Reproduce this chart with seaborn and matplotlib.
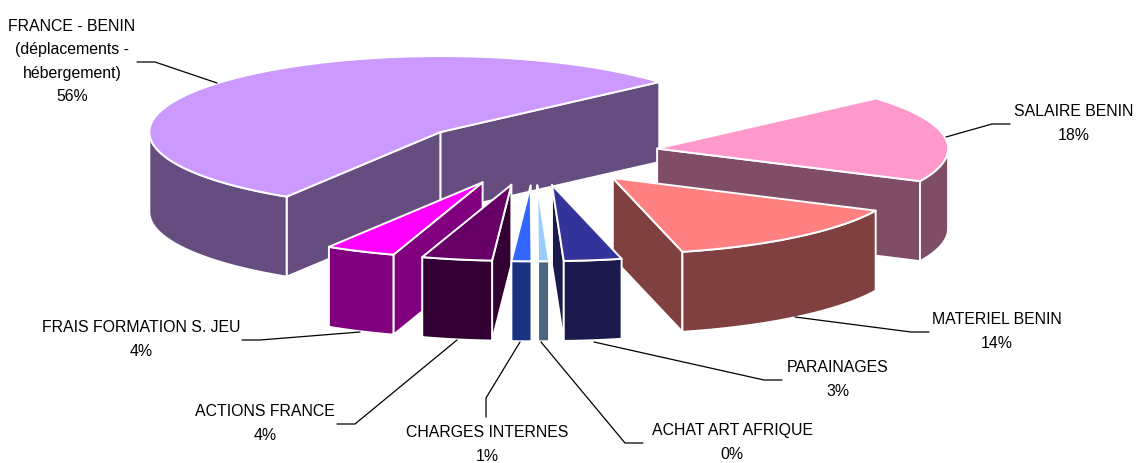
import numpy as np
import matplotlib.pyplot as plt
import matplotlib.colors as mcolors
import seaborn as sns

# slices, counter clockwise from the right hand edge of the big one
names = ["FRANCE - BENIN\n(déplacements -\nhébergement)", "FRAIS FORMATION S. JEU", "ACTIONS FRANCE",
         "CHARGES INTERNES", "ACHAT ART AFRIQUE", "PARAINAGES", "MATERIEL BENIN", "SALAIRE BENIN"]
# printed percentages, and the share of the turn each slice really takes in the picture
percents = [56, 4, 4, 1, 0, 3, 14, 18]
values = [54.7, 3.9, 3.9, 1.1, 0.6, 3.2, 14.1, 18.5]
colors = ["#CC99FF", "#FF00FF", "#660066", "#3366FF", "#99CCFF", "#333399", "#FF8080", "#FF99CC"]

# label centre, then leader line
label_pos = [(72, 61.5), (141, 339.5), (265, 423.5), (487, 444.5), (732, 442.5), (838, 379.5), (997, 331.5), (1074, 123.5)]
leaders = [
    [(137, 62), (155, 62), (217, 83)],
    [(242, 340), (260, 340), (360, 332)],
    [(337, 424), (355, 424), (457, 340)],
    [(486, 417), (486, 398), (520, 342)],
    [(643, 443), (625, 443), (541, 342)],
    [(782, 380), (764, 380), (594, 342)],
    [(929, 332), (911, 332), (795, 317)],
    [(1010, 124), (992, 124), (946, 137)],
]

# pie geometry in image pixels
cx, cy = 534.6, 153
rx, ry = 291, 76
depth = 80
explode = 0.425
start = 41.2

sns.set_theme(style="white")
plt.rcParams["font.family"] = ["Liberation Sans", "DejaVu Sans"]

fig, ax = plt.subplots(figsize=(11.36, 4.63), dpi=100)
fig.subplots_adjust(0, 0, 1, 1)
ax.set_xlim(0, 1136)
ax.set_ylim(463, 0)
ax.axis("off")


def arc(x0, y0, a, b, n=80):
    t = np.radians(np.linspace(a, b, n))
    return np.column_stack([x0 + rx * np.cos(t), y0 - ry * np.sin(t)])


def face(pts, color, z):
    ax.fill(pts[:, 0], pts[:, 1], facecolor=color, edgecolor="white", lw=1.4, joinstyle="round", zorder=z)


edges = start + np.concatenate([[0], np.cumsum(values)]) * 3.6
mids = (edges[:-1] + edges[1:]) / 2
# back slices first
order = np.argsort(-np.sin(np.radians(mids)))

for z, i in enumerate(order):
    a, b = edges[i], edges[i + 1]
    m = np.radians(mids[i])
    x0 = cx + explode * rx * np.cos(m)
    y0 = cy - explode * ry * np.sin(m)
    top = colors[i]
    side = tuple(c * 0.5 for c in mcolors.to_rgb(top))
    apex = np.array([[x0, y0]])
    down = np.array([0, depth])

    # flat cut faces
    for ang, visible in ((a, np.cos(np.radians(a)) > 0), (b, np.cos(np.radians(b)) < 0)):
        if visible:
            p = arc(x0, y0, ang, ang, 1)
            quad = np.vstack([apex, p, p + down, apex + down])
            face(quad, side, z * 10)

    # outer wall, only the part facing front
    for k in (180, 540):
        lo, hi = max(a, k), min(b, k + 180)
        if hi > lo:
            rim = arc(x0, y0, lo, hi)
            face(np.vstack([rim, rim[::-1] + down]), side, z * 10 + 1)

    face(np.vstack([apex, arc(x0, y0, a, b), apex]), top, z * 10 + 2)

for i, name in enumerate(names):
    x, y = label_pos[i]
    ax.text(x, y, f"{name}\n{percents[i]}%", ha="center", va="center", ma="center",
            fontsize=11.4, color="black", linespacing=1.72, zorder=200)
    xs, ys = zip(*leaders[i])
    ax.plot(xs, ys, color="black", lw=0.9, zorder=100)

fig.savefig("out.png", dpi=100, facecolor="white")
